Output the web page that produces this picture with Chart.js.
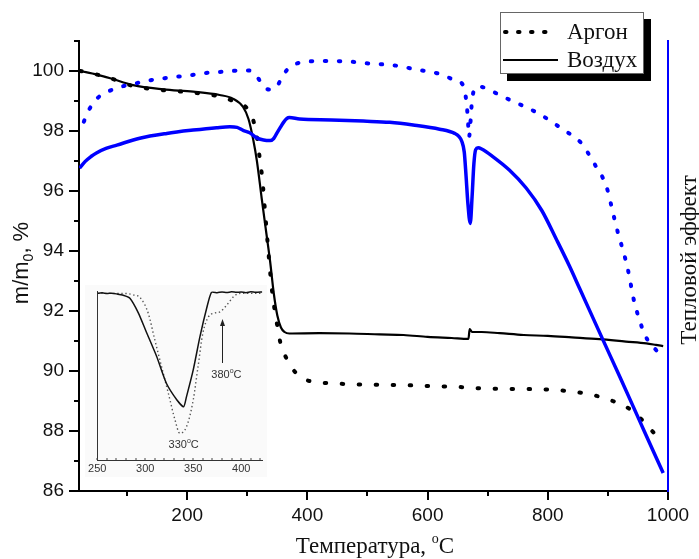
<!DOCTYPE html>
<html>
<head>
<meta charset="utf-8">
<script src="https://cdn.jsdelivr.net/npm/chart.js@4"></script>
<style>
  html, body { margin: 0; padding: 0; background: #fff; }
  #wrap { position: relative; width: 699px; height: 559px; }
  #main { position: absolute; left: 0; top: 0; }
  #inset { position: absolute; left: 85px; top: 285px; background: #fafafa; }
</style>
</head>
<body>
<div id="wrap">
  <canvas id="main" width="699" height="559"></canvas>
  <canvas id="inset" width="182" height="192"></canvas>
</div>
<script>
// TG, m/m0 %, under air (solid) and argon (dotted)
const airTgT = [22, 50, 72, 110, 160, 210, 254, 276, 293, 302, 310, 316, 324, 332, 338, 344, 350, 356, 362, 370, 420, 470, 520, 560, 600, 640, 668, 670, 674, 690, 720, 760, 800, 840, 886, 930, 964, 980, 992];
const airTgM = [100.0, 99.88, 99.76, 99.53, 99.39, 99.31, 99.2, 99.08, 98.8, 98.4, 97.7, 97.0, 95.75, 94.55, 93.65, 92.6, 91.85, 91.45, 91.3, 91.25, 91.26, 91.25, 91.22, 91.2, 91.14, 91.1, 91.07, 91.4, 91.3, 91.3, 91.26, 91.2, 91.17, 91.12, 91.06, 90.98, 90.92, 90.87, 90.83];

const argonTgT = [22, 50, 72, 110, 160, 210, 254, 279, 296, 309, 316, 320, 325, 330, 335, 340, 345, 350, 355, 361, 368, 379, 396, 418, 443, 470, 520, 560, 603, 650, 692, 750, 803, 853, 881, 908, 930, 945, 961, 975, 991];
const argonTgM = [100.0, 99.88, 99.76, 99.5, 99.36, 99.28, 99.15, 98.98, 98.83, 98.42, 97.8, 97.2, 96.4, 95.2, 94.0, 92.9, 92.1, 91.5, 90.95, 90.6, 90.32, 89.98, 89.72, 89.62, 89.59, 89.56, 89.54, 89.53, 89.5, 89.47, 89.42, 89.4, 89.38, 89.28, 89.17, 89.0, 88.81, 88.6, 88.28, 87.97, 87.6];

// heat effect (arbitrary units on the right axis)
const airDtaT = [21, 30, 40, 49, 65, 83, 121, 166, 210, 249, 271, 283, 293, 304, 315, 327, 338, 344, 349, 355, 360, 366, 370, 387, 440, 493, 537, 576, 620, 645, 652, 657, 661, 664, 667, 671, 674, 677, 680, 684, 690, 709, 736, 764, 790, 814, 836, 853, 891, 920, 953, 975, 992];
const airDtaV = [96.76, 96.98, 97.15, 97.27, 97.42, 97.53, 97.76, 97.92, 98.03, 98.11, 98.14, 98.12, 98.02, 97.94, 97.78, 97.7, 97.68, 97.75, 97.92, 98.12, 98.28, 98.42, 98.45, 98.4, 98.37, 98.33, 98.29, 98.2, 98.06, 97.92, 97.82, 97.65, 97.3, 96.5, 95.6, 94.92, 95.8, 96.9, 97.38, 97.44, 97.4, 97.14, 96.7, 96.1, 95.35, 94.4, 93.5, 92.75, 91.07, 89.8, 88.33, 87.35, 86.6];

const argonDtaT = [28, 37, 52, 70, 91, 113, 135, 163, 188, 213, 238, 263, 282, 301, 310, 318, 325, 332, 340, 349, 356, 361, 370, 379, 395, 412, 443, 473, 497, 526, 551, 576, 601, 623, 642, 658, 662, 665, 667, 669, 671, 674, 678, 681, 690, 700, 712, 728, 748, 767, 786, 804, 821, 839, 856, 869, 881, 892, 901, 906, 912, 918, 922, 929, 936, 941, 947, 954, 962, 976, 990];
const argonDtaV = [98.31, 98.72, 99.12, 99.33, 99.48, 99.58, 99.68, 99.76, 99.82, 99.88, 99.95, 99.98, 100.01, 100.02, 99.95, 99.76, 99.55, 99.4, 99.38, 99.48, 99.72, 99.9, 100.12, 100.23, 100.3, 100.33, 100.33, 100.31, 100.26, 100.22, 100.17, 100.07, 99.98, 99.89, 99.72, 99.56, 99.3, 98.9, 98.4, 97.8, 98.2, 99.03, 99.4, 99.48, 99.47, 99.4, 99.28, 99.12, 98.94, 98.76, 98.57, 98.34, 98.11, 97.87, 97.59, 97.2, 96.79, 96.42, 95.92, 95.48, 94.98, 94.51, 94.24, 93.74, 93.12, 92.56, 92.07, 91.61, 91.18, 90.79, 90.51];

const xTicks = [200, 400, 600, 800, 1000];
const xMinor = [100, 300, 500, 700, 900];
const yTicks = [86, 88, 90, 92, 94, 96, 98, 100];
const yMinor = [87, 89, 91, 93, 95, 97, 99, 101];
const legendLabels = ['Аргон', 'Воздух'];

// DTG detail, 250-420 °C (arbitrary units)
const dtgAirT = [250, 255, 260, 265, 270, 277, 284, 293, 301, 312, 322, 333, 340, 343, 350, 357, 364, 369, 375, 380, 385, 390, 395, 400, 405, 410, 415, 422];
const dtgAirV = [98.6, 98.9, 98.5, 98.7, 98.3, 97.5, 95.7, 86.8, 75.9, 61.1, 45.4, 35.5, 31.5, 37.5, 53.3, 73.0, 89.8, 99.2, 99.0, 99.4, 99.1, 99.5, 99.2, 99.4, 99.0, 99.5, 99.2, 99.4];
const dtgArT = [250, 265, 280, 287, 295, 303, 310, 317, 324, 331, 336, 343, 350, 355, 360, 366, 371, 378, 385, 392, 399, 410, 422];
const dtgArV = [98.6, 98.6, 98.5, 97.8, 95.9, 87.0, 71.0, 55.2, 39.6, 23.7, 15.8, 19.7, 35.5, 55.2, 75.0, 84.8, 86.8, 87.7, 91.7, 96.6, 98.6, 98.6, 98.6];
const insetTicks = [250, 300, 350, 400];

const SANS = '"Liberation Sans", Arial, sans-serif';
const SERIF = '"Liberation Serif", "Times New Roman", serif';
const BLUE = '#0000ff';

function pts(xs, ys) {
  return xs.map((x, i) => ({ x: x, y: ys[i] }));
}

// text made of pieces (for sub/superscripts), centred on x
function drawRich(ctx, parts, x, y) {
  let w = 0;
  parts.forEach(p => { ctx.font = p[1]; w += ctx.measureText(p[0]).width; });
  let cx = x - w / 2;
  ctx.textAlign = 'left';
  ctx.textBaseline = 'alphabetic';
  parts.forEach(p => {
    ctx.font = p[1];
    ctx.fillText(p[0], cx, y + (p[2] || 0));
    cx += ctx.measureText(p[0]).width;
  });
}

// short tick marks between the labelled ones
const minorTicks = {
  id: 'minorTicks',
  afterDraw(chart, args, opts) {
    const ctx = chart.ctx;
    const xs = chart.scales.x, ys = chart.scales.y;
    ctx.save();
    ctx.strokeStyle = opts.color;
    ctx.lineWidth = opts.width;
    (opts.x || []).forEach(v => {
      const px = Math.round(xs.getPixelForValue(v));
      ctx.beginPath();
      ctx.moveTo(px, ys.bottom);
      ctx.lineTo(px, ys.bottom + opts.len * opts.dir);
      ctx.stroke();
    });
    (opts.y || []).forEach(v => {
      const py = Math.round(ys.getPixelForValue(v));
      ctx.beginPath();
      ctx.moveTo(xs.left, py);
      ctx.lineTo(xs.left - opts.len * opts.dir, py);
      ctx.stroke();
    });
    ctx.restore();
  }
};

const titles = {
  id: 'titles',
  afterDraw(chart) {
    const ctx = chart.ctx;
    ctx.save();
    ctx.fillStyle = '#111';
    // left axis title
    ctx.save();
    ctx.translate(28, 263);
    ctx.rotate(-Math.PI / 2);
    drawRich(ctx, [['m/m', '22px ' + SANS], ['0', '14px ' + SANS, 5], [', %', '22px ' + SANS]], 0, 0);
    ctx.restore();
    // bottom axis title
    drawRich(ctx, [['Температура, ', '23px ' + SERIF], ['o', '14px ' + SERIF, -10], ['C', '23px ' + SERIF]], 375, 553);
    // right axis title
    ctx.save();
    ctx.translate(696, 260);
    ctx.rotate(-Math.PI / 2);
    drawRich(ctx, [['Тепловой эффект', '23px ' + SERIF]], 0, 0);
    ctx.restore();
    ctx.restore();
  }
};

const legendBox = {
  id: 'legendBox',
  afterDraw(chart) {
    const ctx = chart.ctx;
    const sets = chart.data.datasets;
    const samples = [sets[2], sets[3]];
    ctx.save();
    ctx.fillStyle = '#000';
    ctx.fillRect(507, 19, 144, 62);
    ctx.fillStyle = '#fff';
    ctx.fillRect(500, 12, 144, 62);
    ctx.strokeStyle = '#666';
    ctx.lineWidth = 1;
    ctx.strokeRect(500.5, 12.5, 143, 61);
    const rows = [32, 60];
    samples.forEach((ds, i) => {
      ctx.strokeStyle = ds.borderColor;
      ctx.lineWidth = i === 0 ? 4 : 2;
      ctx.lineCap = ds.borderCapStyle || 'butt';
      ctx.setLineDash(i === 0 ? [1.5, 11.5] : []);
      ctx.beginPath();
      ctx.moveTo(i === 0 ? 505 : 503, rows[i]);
      ctx.lineTo(i === 0 ? 548 : 558, rows[i]);
      ctx.stroke();
      ctx.setLineDash([]);
      ctx.fillStyle = '#111';
      ctx.font = '23px ' + SERIF;
      ctx.textAlign = 'left';
      ctx.textBaseline = 'middle';
      ctx.fillText(legendLabels[i], 567, rows[i] + 1);
    });
    ctx.restore();
  }
};

const curve = { pointRadius: 0, cubicInterpolationMode: 'monotone', fill: false };

new Chart(document.getElementById('main'), {
  type: 'line',
  data: {
    datasets: [
      Object.assign({ data: pts(argonDtaT, argonDtaV), borderColor: BLUE, borderWidth: 4, borderDash: [1.5, 12.5], borderCapStyle: 'round', yAxisID: 'y1' }, curve),
      Object.assign({ data: pts(airDtaT, airDtaV), borderColor: BLUE, borderWidth: 3.5, yAxisID: 'y1' }, curve),
      Object.assign({ label: legendLabels[0], data: pts(argonTgT, argonTgM), borderColor: '#000', borderWidth: 4, borderDash: [1.5, 15.5], borderCapStyle: 'round', yAxisID: 'y' }, curve),
      Object.assign({ label: legendLabels[1], data: pts(airTgT, airTgM), borderColor: '#000', borderWidth: 2.2, yAxisID: 'y' }, curve)
    ]
  },
  options: {
    responsive: false,
    animation: false,
    layout: { padding: { left: 0, top: 41, right: 31, bottom: 0 } },
    plugins: {
      legend: { display: false },
      tooltip: { enabled: false },
      minorTicks: { x: xMinor, y: yMinor, len: 5, dir: 1, color: '#000', width: 2 }
    },
    scales: {
      x: {
        type: 'linear', min: 20, max: 1000,
        afterBuildTicks: s => { s.ticks = xTicks.map(v => ({ value: v })); },
        afterFit: s => { s.height = 68; },
        grid: { drawOnChartArea: false, color: '#000', lineWidth: 2, tickLength: 9 },
        border: { color: '#000', width: 2 },
        ticks: { font: { family: SANS, size: 19 }, color: '#111', padding: 4, maxRotation: 0, autoSkip: false, callback: v => String(v) }
      },
      y: {
        position: 'left', min: 86, max: 101,
        afterBuildTicks: s => { s.ticks = yTicks.map(v => ({ value: v })); },
        afterFit: s => { s.width = 79; },
        grid: { drawOnChartArea: false, color: '#000', lineWidth: 2, tickLength: 10 },
        border: { color: '#000', width: 2 },
        ticks: { font: { family: SANS, size: 19 }, color: '#111', padding: 5, autoSkip: false, callback: v => String(v) }
      },
      y1: {
        position: 'right', min: 86, max: 101,
        afterFit: s => { s.width = 0; },
        grid: { drawOnChartArea: false, drawTicks: false },
        border: { color: BLUE, width: 2 },
        ticks: { display: false }
      }
    }
  },
  plugins: [minorTicks, titles, legendBox]
});

// labels and arrow inside the DTG panel
const insetNotes = {
  id: 'insetNotes',
  afterDraw(chart) {
    const ctx = chart.ctx;
    const xs = chart.scales.x, ys = chart.scales.y;
    ctx.save();
    ctx.fillStyle = '#333';
    drawRich(ctx, [['330', '11px ' + SANS], ['o', '7px ' + SANS, -5], ['C', '11px ' + SANS]], xs.getPixelForValue(340), ys.getPixelForValue(9.3) + 4);
    drawRich(ctx, [['380', '11px ' + SANS], ['o', '7px ' + SANS, -5], ['C', '11px ' + SANS]], xs.getPixelForValue(384.6), ys.getPixelForValue(50.7) + 4);
    const ax = Math.round(xs.getPixelForValue(380)) + 0.5;
    const tip = ys.getPixelForValue(83.4), tail = ys.getPixelForValue(57.4);
    ctx.strokeStyle = '#222';
    ctx.lineWidth = 1;
    ctx.beginPath();
    ctx.moveTo(ax, tail);
    ctx.lineTo(ax, tip + 4);
    ctx.stroke();
    ctx.beginPath();
    ctx.moveTo(ax, tip);
    ctx.lineTo(ax - 2.5, tip + 7);
    ctx.lineTo(ax + 2.5, tip + 7);
    ctx.closePath();
    ctx.fillStyle = '#222';
    ctx.fill();
    ctx.restore();
  }
};

const insetMinor = [];
for (let t = 260; t <= 420; t += 10) if (t % 50 !== 0) insetMinor.push(t);

new Chart(document.getElementById('inset'), {
  type: 'line',
  data: {
    datasets: [
      Object.assign({ data: pts(dtgAirT, dtgAirV), borderColor: '#111', borderWidth: 1.5 }, curve, { cubicInterpolationMode: 'default', tension: 0.2 }),
      Object.assign({ data: pts(dtgArT, dtgArV), borderColor: '#555', borderWidth: 1.4, borderDash: [1.4, 2.6] }, curve)
    ]
  },
  options: {
    responsive: false,
    animation: false,
    layout: { padding: { left: 0, top: 6, right: 4.7, bottom: 0 } },
    plugins: {
      legend: { display: false },
      tooltip: { enabled: false },
      minorTicks: { x: insetMinor.concat(insetTicks), len: 2, dir: -1, color: '#444', width: 1 }
    },
    scales: {
      x: {
        type: 'linear', min: 250, max: 422,
        afterBuildTicks: s => { s.ticks = insetTicks.map(v => ({ value: v })); },
        afterFit: s => { s.height = 17; },
        grid: { drawOnChartArea: false, drawTicks: false },
        border: { color: '#333', width: 1 },
        ticks: { font: { family: SANS, size: 11 }, color: '#333', padding: 2, maxRotation: 0, autoSkip: false }
      },
      y: {
        min: 0, max: 100,
        afterFit: s => { s.width = 12.3; },
        grid: { drawOnChartArea: false, drawTicks: false },
        border: { color: '#333', width: 1 },
        ticks: { display: false }
      }
    }
  },
  plugins: [minorTicks, insetNotes]
});
</script>
</body>
</html>
